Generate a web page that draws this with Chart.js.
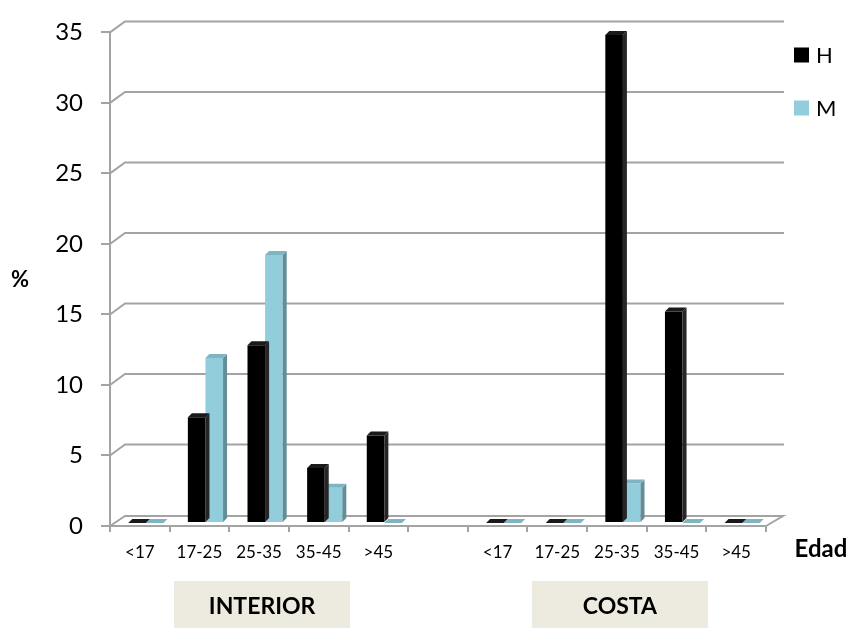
<!DOCTYPE html>
<html>
<head>
<meta charset="utf-8">
<script src="https://cdn.jsdelivr.net/npm/chart.js@4/dist/chart.umd.min.js"></script>
<style>
  html, body { margin: 0; padding: 0; background: #ffffff; }
  #wrap { width: 850px; height: 628px; position: relative; }
</style>
</head>
<body>
<div id="wrap"><canvas id="c" width="850" height="628"></canvas></div>
<script>
// ---- data ----
const categories = ['<17', '17-25', '25-35', '35-45', '>45', '', '<17', '17-25', '25-35', '35-45', '>45'];
const seriesH = [0, 7.5, 12.6, 3.9, 6.2, null, 0, 0, 34.6, 15.0, 0];
const seriesM = [0, 11.7, 19.0, 2.5, 0, null, 0, 0, 2.8, 0, 0];
const seriesNames = ['H', 'M'];
const groupNames = ['INTERIOR', 'COSTA'];
const groupRanges = [[0, 4], [6, 10]];
const yMax = 35;
const yStep = 5;
const yTitle = '%';
const xTitle = 'Edad';

// ---- styles ----
const GRID = '#a3a3a3';
const WALL_DX = 15, WALL_DY = -11;   // depth of the back wall
const BAR_D = 4;                      // depth of each bar
const BAR_SHIFT_X = 6, BAR_SHIFT_Y = -3;

Chart.defaults.font.family = 'Lato, "Liberation Sans", sans-serif';
Chart.defaults.color = '#000';

const threeD = {
  id: 'threeD',
  beforeDatasetsDraw(chart) {
    const ctx = chart.ctx;
    const ys = chart.scales.y;
    const a = chart.chartArea;
    ctx.save();
    ctx.strokeStyle = GRID;
    ctx.lineWidth = 2;
    ctx.lineJoin = 'miter';
    ys.ticks.forEach(t => {
      const y = ys.getPixelForValue(t.value);
      ctx.beginPath();
      if (t.value === 0) {
        ctx.moveTo(a.left, y);
        ctx.lineTo(a.left + WALL_DX, y + WALL_DY + 1);
        ctx.lineTo(a.right + WALL_DX + 2, y + WALL_DY + 1);
        ctx.lineTo(a.right, y);
      } else {
        ctx.moveTo(a.left, y);
        ctx.lineTo(a.left + WALL_DX, y + WALL_DY);
        ctx.lineTo(a.right + WALL_DX + 3, y + WALL_DY);
      }
      ctx.stroke();
    });
    ctx.restore();
    ctx.save();
    ctx.translate(BAR_SHIFT_X, BAR_SHIFT_Y);
  },
  afterDatasetDraw(chart, args) {
    const ctx = chart.ctx;
    const ds = chart.data.datasets[args.index];
    args.meta.data.forEach((el, i) => {
      if (ds.data[i] === null || ds.data[i] === undefined) return;
      const p = el.getProps(['x', 'y', 'base', 'width'], true);
      const l = p.x - p.width / 2, r = p.x + p.width / 2;
      const top = Math.min(p.y, p.base), bot = Math.max(p.y, p.base);
      // side face
      ctx.fillStyle = ds.sideColor;
      ctx.beginPath();
      ctx.moveTo(r, top);
      ctx.lineTo(r + BAR_D, top - BAR_D);
      ctx.lineTo(r + BAR_D, bot - BAR_D);
      ctx.lineTo(r, bot);
      ctx.closePath();
      ctx.fill();
      // top face
      ctx.fillStyle = ds.topColor;
      ctx.beginPath();
      ctx.moveTo(l, top);
      ctx.lineTo(l + BAR_D, top - BAR_D);
      ctx.lineTo(r + BAR_D, top - BAR_D);
      ctx.lineTo(r, top);
      ctx.closePath();
      ctx.fill();
    });
  },
  afterDatasetsDraw(chart) {
    chart.ctx.restore();
  },
  afterDraw(chart) {
    const ctx = chart.ctx;
    const xs = chart.scales.x;
    const ys = chart.scales.y;
    ctx.save();
    // legend
    chart.data.datasets.forEach((ds, i) => {
      const cy = 55 + i * 53;
      ctx.fillStyle = ds.backgroundColor;
      ctx.fillRect(794, cy - 7.5, 15, 15);
      ctx.fillStyle = '#000';
      ctx.font = '22px Lato, sans-serif';
      ctx.textAlign = 'left';
      ctx.textBaseline = 'middle';
      ctx.fillText(ds.label, 816, cy + 1);
    });
    // axis titles
    ctx.font = 'bold 22px Lato, sans-serif';
    ctx.textAlign = 'center';
    ctx.textBaseline = 'middle';
    ctx.fillText(yTitle, 20, ys.getPixelForValue(yMax / 2) + 1);
    ctx.font = 'bold 24px Lato, sans-serif';
    ctx.fillText(xTitle, 821, 549);
    // group boxes
    groupRanges.forEach((g, i) => {
      const c = (xs.getPixelForValue(g[0]) + xs.getPixelForValue(g[1])) / 2 + 3;
      ctx.fillStyle = '#edebe0';
      ctx.fillRect(c - 88, 581, 176, 50);
      ctx.fillStyle = '#000';
      ctx.font = 'bold 23px Lato, sans-serif';
      ctx.fillText(groupNames[i], c, 607);
    });
    ctx.restore();
  }
};

new Chart(document.getElementById('c'), {
  type: 'bar',
  data: {
    labels: categories,
    datasets: [
      { label: seriesNames[0], data: seriesH, backgroundColor: '#000000',
        topColor: '#1a1a1a', sideColor: '#262626',
        barPercentage: 1, categoryPercentage: 0.59, clip: false, borderWidth: 0 },
      { label: seriesNames[1], data: seriesM, backgroundColor: '#92cddc',
        topColor: '#7fb4c2', sideColor: '#628e99',
        barPercentage: 1, categoryPercentage: 0.59, clip: false, borderWidth: 0 }
    ]
  },
  options: {
    responsive: false,
    animation: false,
    devicePixelRatio: 1,
    layout: { padding: { top: 28, right: 84, left: 0, bottom: 0 } },
    plugins: { legend: { display: false }, tooltip: { enabled: false }, title: { display: false } },
    scales: {
      x: {
        afterFit(s) { s.height = 102; },
        grid: { display: true, drawOnChartArea: false, drawTicks: true, tickLength: 6, color: GRID, lineWidth: 2, offset: true },
        border: { display: true, color: GRID, width: 2 },
        ticks: { font: { size: 17 }, color: '#000', padding: 10, maxRotation: 0, autoSkip: false }
      },
      y: {
        min: 0, max: yMax,
        afterFit(s) { s.width = 110; },
        grid: { display: true, drawOnChartArea: false, drawTicks: true, tickLength: 9, color: GRID, lineWidth: 2 },
        border: { display: true, color: GRID, width: 2 },
        ticks: { stepSize: yStep, font: { size: 24 }, color: '#000', padding: 18 }
      }
    }
  },
  plugins: [threeD]
});
</script>
</body>
</html>
